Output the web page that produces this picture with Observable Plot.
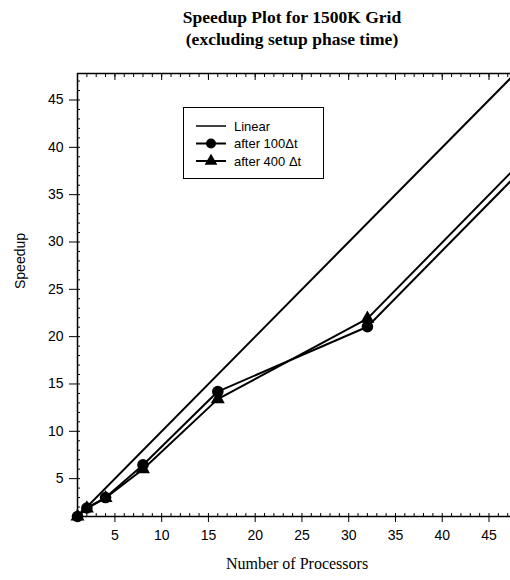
<!DOCTYPE html>
<html><head><meta charset="utf-8">
<script src="https://cdn.jsdelivr.net/npm/d3@7"></script>
<script src="https://cdn.jsdelivr.net/npm/@observablehq/plot@0.6"></script>
<style>
body{margin:0;background:#fff;}
#wrap{position:relative;width:510px;height:580px;overflow:hidden;background:#fff;}
#title{position:absolute;left:77px;width:430px;top:6px;text-align:center;font-family:"Liberation Serif","Times New Roman",serif;font-weight:bold;font-size:17.5px;line-height:22px;color:#000;}
#legend{position:absolute;left:183px;top:107px;width:139px;height:70px;border:1px solid #000;background:#fff;}
#chart{position:absolute;left:0;top:0;}
</style>
</head><body>
<div id="wrap">
  <div id="chart"></div>
  <div id="title">Speedup Plot for 1500K Grid<br>(excluding setup phase time)</div>
  <div id="legend"></div>
</div>
<script>
// ---- data ----
const processors = [1, 2, 4, 8, 16, 32, 64];
const speedup100 = [1, 1.9, 3.0, 6.45, 14.2, 21.05, 53.2];
const speedup400 = [1, 1.85, 2.95, 6.0, 13.4, 21.9, 54.1];
const linearX = [1, 64];
const seriesNames = ["Linear", "after 100\u0394t", "after 400 \u0394t"];
const xTicks = [5, 10, 15, 20, 25, 30, 35, 40, 45];
const yTicks = [5, 10, 15, 20, 25, 30, 35, 40, 45];
const xLabel = "Number of Processors";
const yLabel = "Speedup";

const xMax = 47.3, yMax = 47.8;
const minorX = d3.range(1, 48);
const minorY = d3.range(1, 48);

const linear = linearX.map(v => ({x: v, y: v}));
const s100 = processors.map((p, i) => ({x: p, y: speedup100[i]}));
const s400 = processors.map((p, i) => ({x: p, y: speedup400[i]}));

const chart = Plot.plot({
  width: 510, height: 580,
  marginTop: 73, marginBottom: 64, marginLeft: 77, marginRight: 0,
  x: {domain: [1, xMax]},
  y: {domain: [1, yMax]},
  style: {fontFamily: "'Liberation Sans', Arial, sans-serif", fontSize: "14px", color: "#000", background: "transparent"},
  marks: [
    Plot.axisX(xTicks, {tickSize: 6, tickPadding: 8, label: null, fontSize: 14}),
    Plot.axisX(minorX, {tickSize: -3, text: null, label: null}),
    Plot.axisX(minorX, {anchor: "top", tickSize: -3, text: null, label: null}),
    Plot.axisX(xTicks, {anchor: "top", tickSize: -6, text: null, label: null}),
    Plot.axisY(yTicks, {tickSize: 8, tickPadding: 6, label: null, fontSize: 14}),
    Plot.axisY(minorY, {tickSize: -3, text: null, label: null}),
    Plot.ruleX([1], {strokeWidth: 1.5}),
    Plot.ruleY([1], {strokeWidth: 1.5}),
    Plot.ruleY([yMax], {strokeWidth: 1.5}),
    Plot.line(linear, {x: "x", y: "y", stroke: "#000", strokeWidth: 2, clip: true}),
    Plot.line(s100, {x: "x", y: "y", stroke: "#000", strokeWidth: 2, clip: true}),
    Plot.line(s400, {x: "x", y: "y", stroke: "#000", strokeWidth: 2, clip: true}),
    Plot.dot(s400, {x: "x", y: "y", symbol: "triangle", r: 5.2, fill: "#000", stroke: "none"}),
    Plot.dot(s100, {x: "x", y: "y", symbol: "circle", r: 5.8, fill: "#000", stroke: "none"}),
    Plot.text([xLabel], {frameAnchor: "bottom", dy: 52, dx: 3, lineAnchor: "bottom", fontFamily: "'Liberation Serif', 'Times New Roman', serif", fontSize: 16}),
    Plot.text([yLabel], {frameAnchor: "left", dx: -57, dy: -6, rotate: -90, fontSize: 14})
  ]
});
document.getElementById("chart").appendChild(chart);

// ---- legend ----
const symbols = [null, d3.symbolCircle, d3.symbolTriangle];
const lg = d3.select("#legend").append("svg").attr("width", 139).attr("height", 70)
  .style("font-family", "'Liberation Sans', Arial, sans-serif").style("font-size", "13px");
seriesNames.forEach((name, i) => {
  const yy = 18 + i * 17.5;
  lg.append("line").attr("x1", 12).attr("x2", 42).attr("y1", yy).attr("y2", yy)
    .attr("stroke", "#000").attr("stroke-width", i === 0 ? 1.5 : 2);
  if (symbols[i]) {
    lg.append("path").attr("d", d3.symbol(symbols[i], i === 1 ? 78 : 70)())
      .attr("transform", `translate(27,${yy})`).attr("fill", "#000");
  }
  lg.append("text").attr("x", 50).attr("y", yy + 4.5).text(name);
});
</script>
</body></html>
